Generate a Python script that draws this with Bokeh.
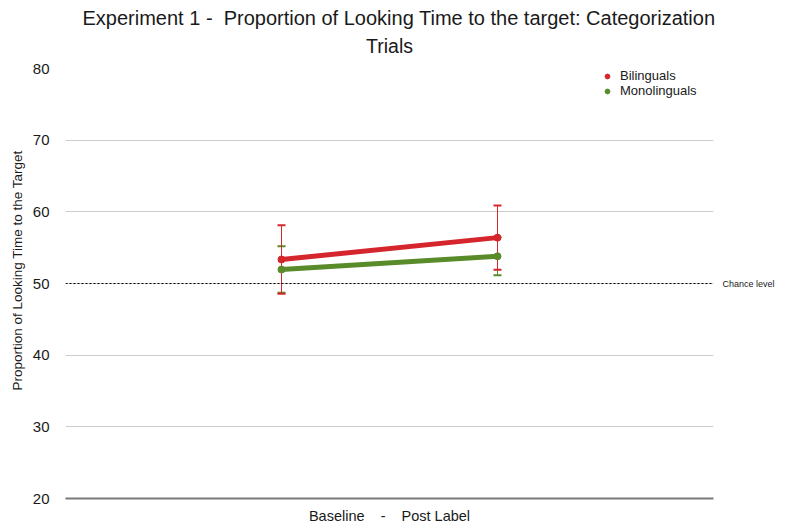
from bokeh.plotting import figure
from bokeh.models import (Range1d, ColumnDataSource, Whisker, TeeHead, Title,
                          Legend, LegendItem, FixedTicker, LinearAxis)
from bokeh.embed import file_html
from bokeh.resources import INLINE

# ---- data -------------------------------------------------------------
conditions = ["Baseline", "Post Label"]
positions = [1, 2]
bilingual_mean = [53.35, 56.4]
bilingual_err = [4.78, 4.47]
monolingual_mean = [51.95, 53.8]
monolingual_err = [3.25, 2.65]
y_ticks = [20, 30, 40, 50, 60, 70, 80]
chance_level = 50

RED = "#d5262d"
GREEN = "#5a8b2a"
FONT = "Liberation Sans"
TXT = "#1a1a1a"
NB = "\u00a0"

p = figure(width=786, height=526, output_backend="svg", toolbar_location=None,
           x_range=Range1d(0, 3), y_range=Range1d(20, 80),
           min_border_left=65, min_border_right=73, min_border_top=68,
           min_border_bottom=28)
p.outline_line_color = None
p.background_fill_color = "white"
p.border_fill_color = "white"

# bottom axis: only the line and the caption
p.xaxis.ticker = FixedTicker(ticks=[])
p.xaxis.axis_line_color = "#7a7a7a"
p.xaxis.axis_line_width = 2
p.xaxis.major_tick_line_color = None
p.xaxis.minor_tick_line_color = None
p.xaxis.major_label_text_font_size = "0px"
p.xaxis.axis_label = (NB * 4 + "-" + NB * 4).join(conditions)
p.xaxis.axis_label_text_font = FONT
p.xaxis.axis_label_text_font_size = "14.5px"
p.xaxis.axis_label_text_font_style = "normal"
p.xaxis.axis_label_text_color = TXT
p.xaxis.axis_label_standoff = 9
p.xgrid.visible = False

# left axis
p.yaxis.ticker = FixedTicker(ticks=y_ticks)
p.yaxis.axis_line_color = None
p.yaxis.major_tick_line_color = None
p.yaxis.minor_tick_line_color = None
p.yaxis.major_label_standoff = 10
p.yaxis.major_label_text_font = FONT
p.yaxis.major_label_text_font_size = "15px"
p.yaxis.major_label_text_color = TXT
p.yaxis.axis_label = NB * 7 + "Proportion of Looking Time to the Target"
p.yaxis.axis_label_text_font = FONT
p.yaxis.axis_label_text_font_size = "13.5px"
p.yaxis.axis_label_text_font_style = "normal"
p.yaxis.axis_label_text_color = TXT
p.yaxis.axis_label_standoff = 5
p.ygrid.ticker = FixedTicker(ticks=[t for t in y_ticks if t > 20])
p.ygrid.grid_line_color = "#cccccc"
p.ygrid.grid_line_width = 1

# chance level line with its caption on the right
p.line(x=[0, 3], y=[chance_level, chance_level], line_color="black",
       line_width=1, line_dash="2 2")
right = LinearAxis(ticker=FixedTicker(ticks=[chance_level]),
                   major_label_overrides={chance_level: "Chance level"},
                   axis_line_color=None, major_tick_line_color=None,
                   minor_tick_line_color=None, major_label_standoff=3,
                   major_label_text_font=FONT, major_label_text_font_size="9px",
                   major_label_text_color=TXT)
p.add_layout(right, "right")

# series
bi = ColumnDataSource(dict(x=positions, y=bilingual_mean,
                           lo=[m - e for m, e in zip(bilingual_mean, bilingual_err)],
                           hi=[m + e for m, e in zip(bilingual_mean, bilingual_err)]))
mo = ColumnDataSource(dict(x=positions, y=monolingual_mean,
                           lo=[m - e for m, e in zip(monolingual_mean, monolingual_err)],
                           hi=[m + e for m, e in zip(monolingual_mean, monolingual_err)]))

p.line("x", "y", source=mo, line_color=GREEN, line_width=5)
mo_pts = p.scatter("x", "y", source=mo, size=7, color=GREEN)
p.line("x", "y", source=bi, line_color=RED, line_width=5)
bi_pts = p.scatter("x", "y", source=bi, size=7, color=RED)

for src, col in ((mo, GREEN), (bi, RED)):
    w = Whisker(base="x", lower="lo", upper="hi", source=src,
                line_color=col, line_width=1,
                upper_head=TeeHead(size=8, line_color=col, line_width=2),
                lower_head=TeeHead(size=8, line_color=col, line_width=2))
    p.add_layout(w)

legend = Legend(items=[LegendItem(label="Bilinguals", renderers=[bi_pts]),
                       LegendItem(label="Monolinguals", renderers=[mo_pts])],
                location=(536, 400), orientation="vertical",
                border_line_color=None, background_fill_alpha=0,
                padding=0, margin=0, spacing=0,
                glyph_width=12, glyph_height=12, label_height=12,
                label_standoff=7, label_text_font=FONT,
                label_text_font_size="13px", label_text_color=TXT)
p.add_layout(legend)

# two-line title
p.add_layout(Title(text="Trials", align="center", text_font=FONT,
                   text_font_size="19.5px", text_font_style="normal",
                   text_color=TXT, standoff=24), "above")
p.add_layout(Title(text="Experiment 1 -" + NB * 2 + "Proportion of Looking Time to the target: Categorization",
                   align="left", offset=17, text_font=FONT,
                   text_font_size="20px", text_font_style="normal",
                   text_color=TXT, standoff=-16), "above")

open("out.html", "w").write(file_html(p, INLINE))
